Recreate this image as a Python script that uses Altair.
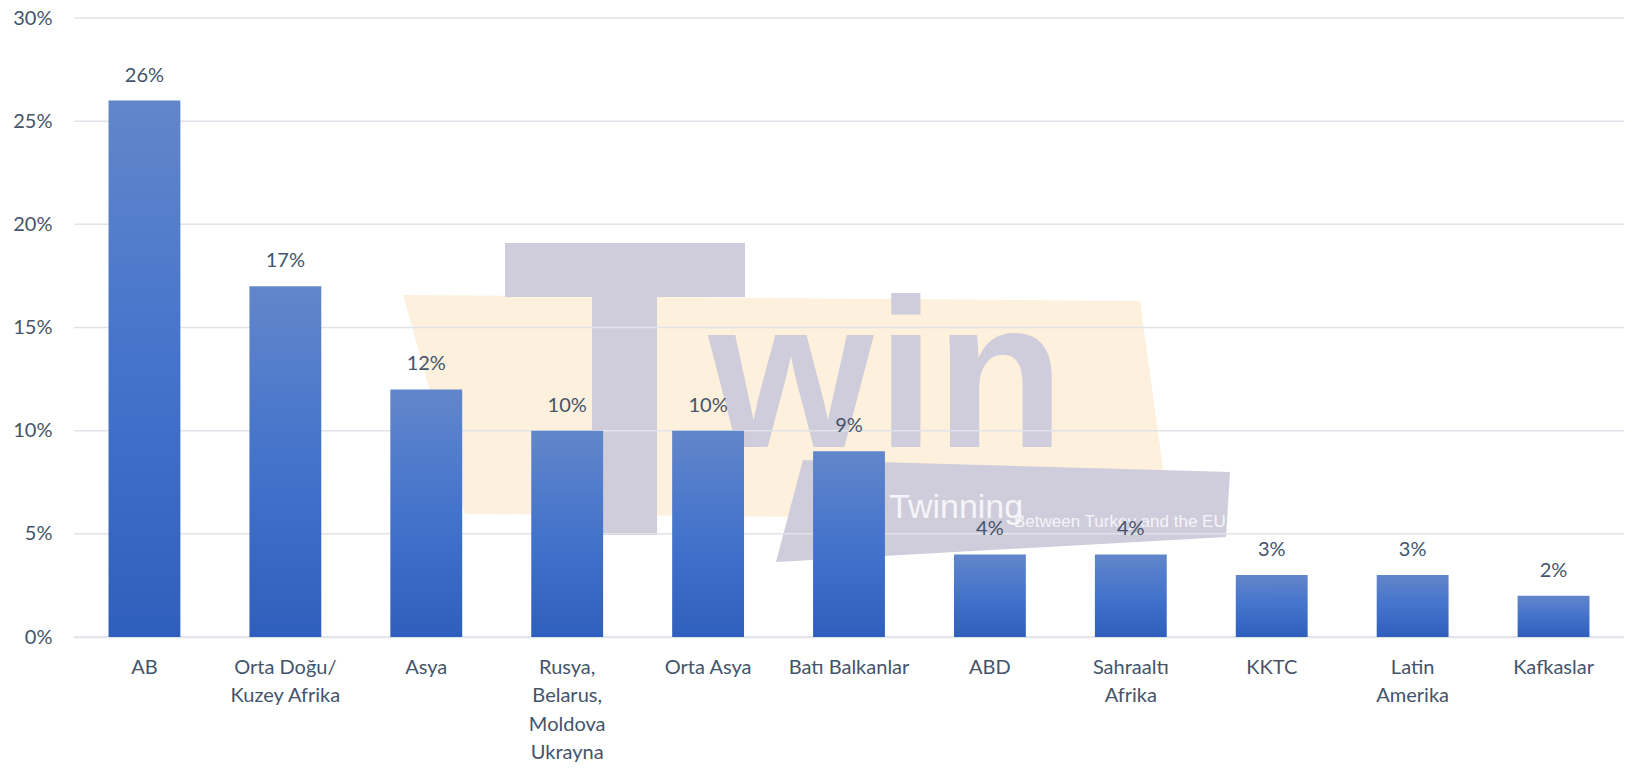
import altair as alt
import pandas as pd

# ---- chart data ----
categories = ["AB", "Orta Doğu/|Kuzey Afrika", "Asya", "Rusya,|Belarus,|Moldova|Ukrayna",
              "Orta Asya", "Batı Balkanlar", "ABD", "Sahraaltı|Afrika", "KKTC",
              "Latin|Amerika", "Kafkaslar"]
values = [26, 17, 12, 10, 10, 9, 4, 4, 3, 3, 2]
y_ticks = [0, 5, 10, 15, 20, 25, 30]

df = pd.DataFrame({"cat": categories, "val": values})
df["lbl"] = df["val"].astype(str) + "%"
grid_df = pd.DataFrame({"val": y_ticks})

FONT = "Lato"
TXT = "#44546a"
GRID = "#dfe3ea"
W, H = 1550, 619
OX, OY = 74, 18  # plot origin on the page

yscale = alt.Scale(domain=[0, 30], nice=False)
xscale = alt.Scale(paddingInner=0.49, paddingOuter=0.245)

x = alt.X("cat:N", sort=categories, title=None, scale=xscale,
          axis=alt.Axis(labelAngle=0, labelExpr="split(datum.value, '|')",
                        labelFont=FONT, labelFontSize=20, labelColor=TXT,
                        labelLineHeight=28.5, labelPadding=20, ticks=False,
                        domain=True, domainColor=GRID, domainWidth=1.5,
                        labelBaseline="top"))
yaxis = alt.Axis(values=y_ticks, labelExpr="datum.value + '%'",
                 labelFont=FONT, labelFontSize=20, labelColor=TXT,
                 labelPadding=22, ticks=False, domain=False, grid=False)
y = alt.Y("val:Q", title=None, scale=yscale, axis=yaxis)

# ---- background watermark (decoration, page pixel coordinates) ----
def wm_poly(pts, color):
    path = "M" + " L".join(f"{px - OX},{py - OY}" for px, py in pts) + " Z"
    return alt.Chart(grid_df.head(1)).mark_point(
        shape=path, size=4, filled=True, fill=color, opacity=1, strokeWidth=0
    ).encode(x=alt.value(0), y=alt.value(0))

WM_GRAY = "#cfccdb"
wm_shapes = [
    wm_poly([(403, 295), (1140, 301), (1170, 520), (465, 514)], "#fdf0dc"),
    wm_poly([(505, 243), (745, 243), (745, 297), (505, 297)], WM_GRAY),
    wm_poly([(592, 297), (657, 297), (657, 535), (592, 535)], WM_GRAY),
    wm_poly([(803, 460), (1230, 472), (1226, 537), (776, 562)], WM_GRAY),
]

def wm_text(t, px, py, size, color, weight="normal", align="center"):
    return alt.Chart(grid_df.head(1)).mark_text(
        text=t, font="Liberation Sans", fontSize=size, fontWeight=weight, color=color,
        align=align, baseline="alphabetic"
    ).encode(x=alt.value(px - OX), y=alt.value(py - OY))

wm_letters = [
    wm_text("w", 791, 447, 212, WM_GRAY, "bold"),
    wm_text("i", 906, 447, 212, WM_GRAY, "bold"),
    wm_text("n", 1000, 447, 212, WM_GRAY, "bold"),
    wm_text("Twinning", 889, 518, 34, "#f5f4f8", "normal", "left"),
    wm_text("Between Turkey and the EU", 1014, 527, 17, "#f5f4f8", "normal", "left"),
]

# ---- chart layers ----
grid = alt.Chart(grid_df).mark_rule(color=GRID, strokeWidth=1.5).encode(
    y=y, x=alt.value(0), x2=alt.value(W))

grad = alt.Gradient(gradient="linear",
                    stops=[alt.GradientStop(color="#6286ca", offset=0),
                           alt.GradientStop(color="#4473cc", offset=0.5),
                           alt.GradientStop(color="#2f5fbc", offset=1)],
                    x1=0, x2=0, y1=0, y2=1)

bars = alt.Chart(df).mark_bar(color=grad).encode(x=x, y=y)
labels = alt.Chart(df).mark_text(font=FONT, fontSize=20, color=TXT, dy=-25,
                                 baseline="middle").encode(x=x, y=y, text="lbl:N")

chart = alt.layer(*wm_shapes, *wm_letters, grid, bars, labels).properties(
    width=W, height=H,
    background="white",
    autosize=alt.AutoSizeParams(type="none"),
    padding={"left": OX - 8, "top": OY - 8, "right": 0, "bottom": 125},
).configure_view(stroke="transparent", strokeWidth=0).configure_axisY(domain=False)

chart.save("out.html", embed_options={"renderer": "svg", "actions": False})
